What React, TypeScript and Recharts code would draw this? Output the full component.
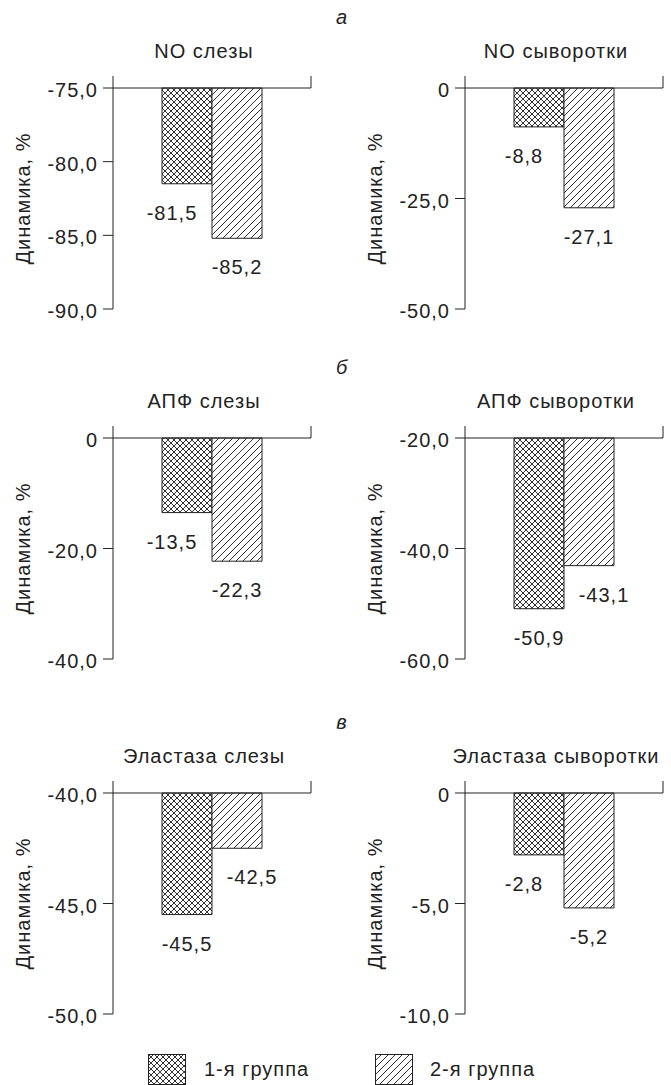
import React from 'react';
import { BarChart, Bar, XAxis, YAxis, ReferenceLine, LabelList } from 'recharts';

const panelLetters = ['а', 'б', 'в'];
const titlesTear = ['NO слезы', 'АПФ слезы', 'Эластаза слезы'];
const titlesSerum = ['NO сыворотки', 'АПФ сыворотки', 'Эластаза сыворотки'];
const group1Tear = [-81.5, -13.5, -45.5];
const group2Tear = [-85.2, -22.3, -42.5];
const group1Serum = [-8.8, -50.9, -2.8];
const group2Serum = [-27.1, -43.1, -5.2];
const ticksTear = [[-90, -85, -80, -75], [-40, -20, 0], [-50, -45, -40]];
const ticksSerum = [[-50, -25, 0], [-60, -40, -20], [-10, -5, 0]];
const seriesNames = ['1-я группа', '2-я группа'];
const yLabel = 'Динамика, %';

const FONT = '"Liberation Sans", Arial, sans-serif';
const INK = '#222';
const PLOT_H = 221;
const rowTops = [88, 438, 793];

const fmt = (v: number) => (v === 0 ? '0' : v.toFixed(1).replace('.', ','));

function valueLabel(dx: number) {
  return (p: any) => {
    const x = Number(p.x);
    const y = Number(p.y);
    const w = Number(p.width);
    const h = Number(p.height);
    const bottom = Math.max(y, y + h);
    return (
      <text
        x={x + w / 2 + dx}
        y={bottom + 36}
        textAnchor="middle"
        fontSize={20}
        fontFamily={FONT}
        letterSpacing={1}
        fill={INK}
      >
        {fmt(Number(p.value))}
      </text>
    );
  };
}

function Panel({ v1, v2, ticks }: { v1: number; v2: number; ticks: number[] }) {
  const min = Math.min(...ticks);
  const max = Math.max(...ticks);
  const ext = ((max - min) * 12) / PLOT_H;
  const data = [{ name: 'g', g1: v1, g2: v2 }];
  const dx1 = v1 > v2 ? -15 : 0;
  const dx2 = v2 > v1 ? 15 : 0;
  return (
    <BarChart
      width={340}
      height={286}
      data={data}
      margin={{ top: 40, right: 29, bottom: 25, left: 13 }}
      barGap={0}
      barSize={50}
    >
      <XAxis dataKey="name" hide />
      <YAxis
        type="number"
        domain={[min, max]}
        ticks={ticks}
        interval={0}
        width={100}
        tickSize={10}
        tickMargin={5}
        tickFormatter={fmt}
        axisLine={{ stroke: INK }}
        tickLine={{ stroke: INK }}
        tick={{ fontSize: 20, fill: INK, fontFamily: FONT, letterSpacing: 1, dy: 2 }}
        label={{
          value: yLabel,
          angle: -90,
          position: 'insideLeft',
          offset: 10,
          fontSize: 20,
          fill: INK,
          fontFamily: FONT,
          letterSpacing: 1,
          style: { textAnchor: 'middle' },
        }}
      />
      <Bar dataKey="g1" fill="url(#cross)" stroke={INK} strokeWidth={1} isAnimationActive={false}>
        <LabelList dataKey="g1" content={valueLabel(dx1)} />
      </Bar>
      <Bar dataKey="g2" fill="url(#diag)" stroke={INK} strokeWidth={1} isAnimationActive={false}>
        <LabelList dataKey="g2" content={valueLabel(dx2)} />
      </Bar>
      <ReferenceLine y={max} stroke={INK} strokeWidth={1} />
      <ReferenceLine
        segment={[{ x: 'g', y: max }, { x: 'g', y: max + ext }]}
        position="start"
        ifOverflow="visible"
        stroke={INK}
      />
      <ReferenceLine
        segment={[{ x: 'g', y: max }, { x: 'g', y: max + ext }]}
        position="end"
        ifOverflow="visible"
        stroke={INK}
      />
    </BarChart>
  );
}

const textStyle: React.CSSProperties = {
  position: 'absolute',
  fontFamily: FONT,
  fontSize: 20,
  letterSpacing: 1,
  color: INK,
  lineHeight: '24px',
  whiteSpace: 'nowrap',
};

function Swatch({ fill }: { fill: string }) {
  return (
    <svg width={38} height={31}>
      <rect x={0.5} y={0.5} width={37} height={30} fill={fill} stroke={INK} strokeWidth={1} />
    </svg>
  );
}

export default function App() {
  const cols = [
    { left: 0, titles: titlesTear, g1: group1Tear, g2: group2Tear, ticks: ticksTear },
    { left: 352, titles: titlesSerum, g1: group1Serum, g2: group2Serum, ticks: ticksSerum },
  ];
  return (
    <div style={{ position: 'absolute', left: 0, top: 0, width: 671, height: 1085, background: '#fff', overflow: 'hidden' }}>
      <svg width={0} height={0} style={{ position: 'absolute' }}>
        <defs>
          <pattern id="cross" width={6} height={6} patternUnits="userSpaceOnUse">
            <rect width={6} height={6} fill="#fff" />
            <path d="M0,0 L6,6 M6,0 L0,6" stroke="#333" strokeWidth={1} />
          </pattern>
          <pattern id="diag" width={7} height={7} patternUnits="userSpaceOnUse">
            <rect width={7} height={7} fill="#fff" />
            <path d="M-1,1 L1,-1 M0,7 L7,0 M6,8 L8,6" stroke="#333" strokeWidth={1} />
          </pattern>
        </defs>
      </svg>

      {rowTops.map((top, r) => (
        <React.Fragment key={r}>
          <div style={{ ...textStyle, left: 332, width: 20, textAlign: 'center', top: top - 71 - 12, fontStyle: 'italic' }}>
            {panelLetters[r]}
          </div>
          {cols.map((c, ci) => (
            <React.Fragment key={ci}>
              <div style={{ position: 'absolute', left: c.left, top: top - 40 }}>
                <Panel v1={c.g1[r]} v2={c.g2[r]} ticks={c.ticks[r]} />
              </div>
              <div style={{ ...textStyle, left: c.left + 204 - 150, width: 300, textAlign: 'center', top: top - 37 - 12 }}>
                {c.titles[r]}
              </div>
            </React.Fragment>
          ))}
        </React.Fragment>
      ))}

      <div style={{ position: 'absolute', left: 148, top: 1054 }}>
        <Swatch fill="url(#cross)" />
      </div>
      <div style={{ ...textStyle, left: 204, top: 1057 }}>{seriesNames[0]}</div>
      <div style={{ position: 'absolute', left: 375, top: 1054 }}>
        <Swatch fill="url(#diag)" />
      </div>
      <div style={{ ...textStyle, left: 430, top: 1057 }}>{seriesNames[1]}</div>
    </div>
  );
}
